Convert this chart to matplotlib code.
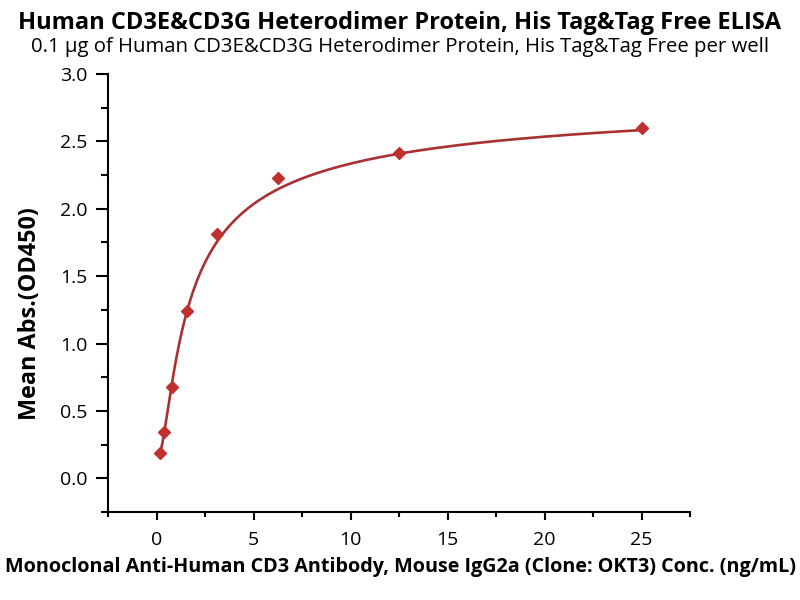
import numpy as np
import matplotlib
matplotlib.use("Agg")
import matplotlib.pyplot as plt
from matplotlib.ticker import MultipleLocator

# measured data points
conc = [0.195, 0.39, 0.78, 1.56, 3.125, 6.25, 12.5, 25]
od450 = [0.19, 0.34, 0.68, 1.24, 1.81, 2.23, 2.41, 2.60]

# fitted-curve values
curve_x = [0.195, 0.39, 0.78, 1.56, 3.125, 6.25, 7.46, 12.5, 20.3, 25]
curve_y = [0.19, 0.34, 0.68, 1.24, 1.74, 2.16, 2.23, 2.40, 2.52, 2.60]

title = "Human CD3E&CD3G Heterodimer Protein, His Tag&Tag Free ELISA"
subtitle = "0.1 \u03bcg of Human CD3E&CD3G Heterodimer Protein, His Tag&Tag Free per well"
xlabel = "Monoclonal Anti-Human CD3 Antibody, Mouse IgG2a (Clone: OKT3) Conc. (ng/mL)"
ylabel = "Mean Abs.(OD450)"
xticks = [0, 5, 10, 15, 20, 25]
yticks = [0.0, 0.5, 1.0, 1.5, 2.0, 2.5, 3.0]

plt.rcParams['font.family'] = ['Open Sans', 'DejaVu Sans']

x = np.array(conc)
y = np.array(od450)
cx = np.array(curve_x)
cy = np.array(curve_y)

# smooth 5PL through the read curve values (grid over c, b, g; linear solve for A, D)
cs = np.logspace(-1, 3, 300)[:, None, None, None]
bs = np.linspace(0.3, 3.0, 136)[None, :, None, None]
gl = np.logspace(-1, 1, 25)
gs = gl[None, None, :, None]
s = 1.0 / (1.0 + (cx / cs) ** bs) ** gs
mu = s.mean(-1, keepdims=True)
my = cy.mean()
E = ((s - mu) * (cy - my)).sum(-1) / ((s - mu) ** 2).sum(-1)
D = my - E * mu[..., 0]
r = ((D[..., None] + E[..., None] * s - cy) ** 2).sum(-1)
i = np.unravel_index(np.nanargmin(r), r.shape)
c0, b0, g0 = cs.ravel()[i[0]], bs.ravel()[i[1]], gl[i[2]]
xf = np.linspace(cx.min(), cx.max(), 400)
yf = D[i] + E[i] / (1.0 + (xf / c0) ** b0) ** g0

fig = plt.figure(figsize=(8, 6), dpi=100)
ax = fig.add_axes([0.135, 0.1467, 0.7275, 0.73])
ax.plot(xf, yf, color='#A83232', lw=1.9, zorder=2)
ax.plot(x, y, linestyle='none', marker='D', ms=6.5, color='#C0302E', zorder=3)

ax.set_xlim(-2.5, 27.5)
ax.set_ylim(-0.25, 3.0)
ax.xaxis.set_minor_locator(MultipleLocator(2.5))
ax.yaxis.set_minor_locator(MultipleLocator(0.25))
ax.set_xticks(xticks)
ax.set_yticks(yticks)
ax.set_yticklabels([f"{v:.1f}" for v in yticks])
for sp in ['top', 'right']:
    ax.spines[sp].set_visible(False)
for sp in ['left', 'bottom']:
    ax.spines[sp].set_linewidth(1.5)
ax.tick_params(axis='y', which='major', direction='out', length=9, width=1.5, labelsize=14, pad=6)
ax.tick_params(axis='y', which='minor', direction='out', length=5, width=1.5)
ax.tick_params(axis='x', which='major', direction='out', length=6, width=1.5, labelsize=14, pad=8)
ax.tick_params(axis='x', which='minor', direction='out', length=3.5, width=1.5)

xl = ax.set_xlabel(xlabel, fontsize=14.2, fontweight='bold')
xl.set_va('center')
ax.xaxis.set_label_coords(0.502, -0.1256)
yl = ax.set_ylabel(ylabel, fontsize=16.8, fontweight='bold')
yl.set_va('center')
ax.yaxis.set_label_coords(-0.134, 0.454)

fig.text(0.5, 0.962, title, ha='center', va='center', fontsize=17, fontweight='bold')
fig.text(0.5, 0.922, subtitle, ha='center', va='center', fontsize=14.7)

fig.savefig("out.png", dpi=100)
